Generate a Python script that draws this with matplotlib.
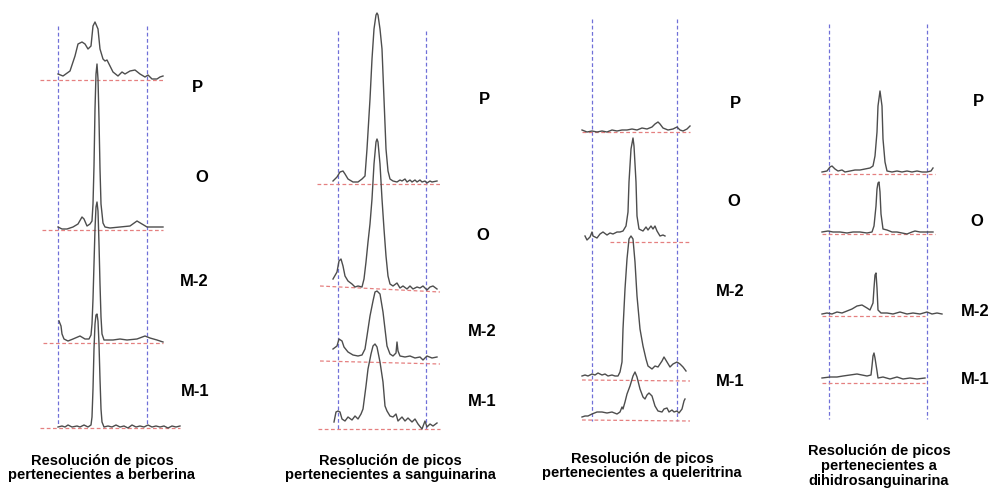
# ---------------------------------------------
# Resolución de picos - cromatogramas apilados
# ---------------------------------------------

import numpy as np
import matplotlib
matplotlib.use("Agg")
import matplotlib.pyplot as plt

# ----------------------------
# Data (x = retention position, h = signal above baseline)
# ----------------------------

ber_P = [(58, 6), (63, 4), (70, 9), (75, 24), (78, 36), (82, 38), (85, 36), (88, 31),
         (91, 34), (93, 54), (95, 58), (98, 51), (100, 31), (103, 21), (105, 19),
         (107, 20), (110, 14), (113, 8), (118, 4), (122, 8), (125, 6), (130, 9),
         (135, 10), (140, 6), (145, 3), (148, 5), (152, 1), (157, 1), (160, 3), (163, 4)]
ber_O = [(58, 3), (62, 1), (67, 1), (73, 3), (78, 6), (82, 13), (84, 11), (87, 4),
         (90, 6), (92, 9), (93, 26), (94, 64), (95, 121), (96, 156), (97, 166),
         (98, 151), (99, 111), (100, 61), (101, 26), (103, 7), (105, 3), (110, 2),
         (120, 3), (130, 4), (137, 9), (142, 6), (147, 3), (153, 3), (163, 3)]
ber_M2 = [(59, 22), (61, 17), (62, 9), (64, 4), (68, 2), (73, 4), (80, 7), (85, 4),
          (89, 4), (91, 8), (92, 19), (93, 44), (94, 79), (95, 114), (96, 136),
          (97, 141), (98, 132), (99, 99), (100, 59), (101, 26), (102, 9), (104, 3),
          (113, 3), (120, 4), (127, 3), (137, 4), (145, 7), (150, 5), (157, 3), (163, 1)]
ber_M1 = [(58, 2), (62, 3), (65, 2), (68, 4), (72, 2), (77, 3), (80, 2), (84, 4),
          (88, 2), (91, 4), (92, 12), (93, 40), (94, 80), (95, 105), (96, 114),
          (97, 115), (98, 108), (99, 85), (100, 50), (101, 20), (102, 7), (104, 2),
          (108, 3), (112, 2), (116, 4), (120, 2), (124, 3), (128, 1), (132, 4),
          (136, 2), (140, 3), (144, 2), (148, 4), (152, 2), (156, 3), (160, 2),
          (164, 3), (168, 1), (172, 3), (176, 2), (180, 3)]

san_P = [(333, 3), (337, 7), (340, 12), (343, 13), (345, 10), (348, 5), (353, 2),
         (358, 2), (362, 5), (365, 8), (367, 35), (370, 85), (372, 125), (374, 155),
         (376, 169), (377, 171), (378, 169), (380, 155), (382, 135), (384, 85),
         (386, 35), (388, 13), (390, 5), (393, 3), (397, 2), (400, 4), (402, 3),
         (405, 5), (407, 2), (410, 4), (412, 2), (415, 4), (417, 2), (420, 4),
         (422, 2), (425, 3), (427, 1), (430, 3), (432, 2), (437, 3)]
san_O = [(333, 10), (337, 17), (339, 28), (341, 30), (343, 23), (345, 13), (348, 8),
         (352, 5), (355, 2), (358, 3), (362, 2), (364, 10), (366, 27), (368, 47),
         (370, 65), (372, 90), (374, 125), (376, 147), (377, 150), (378, 147),
         (380, 125), (382, 90), (384, 60), (386, 33), (388, 13), (390, 5), (393, 3),
         (397, 6), (400, 1), (403, 3), (407, 0), (410, 3), (413, 0), (417, 2),
         (420, 1), (423, 3), (427, -1), (430, 2), (433, 3), (437, 0)]
san_M2 = [(333, 13), (337, 16), (339, 23), (342, 21), (344, 15), (348, 10), (353, 7),
          (358, 6), (362, 7), (365, 13), (367, 26), (370, 46), (373, 61), (375, 70),
          (377, 71), (380, 68), (383, 50), (385, 33), (387, 16), (390, 8), (393, 6),
          (396, 9), (397, 20), (398, 11), (400, 6), (405, 5), (410, 6), (415, 4),
          (420, 5), (423, 2), (427, 6), (432, 4), (437, 5)]
san_M1 = [(334, 7), (336, 17), (338, 18), (340, 17), (342, 10), (345, 8), (348, 12),
          (352, 9), (355, 13), (358, 10), (361, 15), (363, 20), (366, 43), (368, 60),
          (371, 75), (373, 83), (375, 85), (377, 82), (380, 67), (383, 47), (385, 23),
          (387, 18), (390, 13), (393, 12), (396, 15), (398, 8), (402, 12), (405, 8),
          (408, 11), (412, 7), (415, 10), (418, 5), (422, 0), (425, 8), (427, 2),
          (430, 5), (433, 3), (437, 6)]

que_P = [(582, 2), (587, 0), (592, 1), (597, 0), (602, 1), (607, 0), (612, 2),
         (617, 1), (622, 2), (627, 2), (632, 3), (637, 2), (642, 4), (647, 3),
         (652, 5), (655, 8), (658, 10), (660, 8), (663, 4), (668, 2), (673, 3),
         (677, 5), (680, 2), (683, 1), (687, 3), (690, 6)]
que_O = [(585, 6), (587, 2), (590, 5), (592, 10), (593, 6), (597, 4), (600, 8),
         (603, 10), (607, 7), (610, 9), (613, 8), (617, 10), (620, 10), (623, 11),
         (626, 16), (628, 30), (629, 60), (631, 93), (633, 104), (634, 96),
         (636, 60), (637, 26), (639, 13), (643, 11), (646, 15), (648, 12), (651, 16),
         (653, 13), (655, 16), (657, 11), (660, 6), (663, 7), (665, 6)]
que_M2 = [(582, 4), (585, 5), (588, 4), (592, 6), (595, 5), (598, 7), (602, 5),
          (605, 6), (608, 4), (612, 5), (615, 4), (618, 4), (620, 8), (622, 18),
          (623, 51), (625, 91), (627, 121), (629, 141), (631, 144), (633, 141),
          (635, 118), (637, 84), (640, 51), (643, 34), (646, 21), (648, 14),
          (652, 11), (655, 14), (658, 13), (662, 19), (664, 23), (667, 18),
          (670, 13), (673, 16), (677, 18), (680, 16), (683, 13), (686, 9)]
que_M1 = [(582, 3), (585, 4), (588, 4), (592, 6), (597, 8), (602, 8), (607, 7),
          (612, 8), (617, 6), (620, 8), (622, 13), (623, 11), (625, 18), (627, 26),
          (630, 34), (633, 44), (635, 48), (637, 43), (640, 31), (643, 23), (645, 21),
          (647, 25), (649, 27), (652, 24), (655, 14), (658, 9), (662, 8), (664, 11),
          (667, 12), (669, 8), (672, 10), (674, 8), (677, 9), (679, 7), (682, 11),
          (684, 19), (685, 21)]

dih_P = [(822, 2), (827, 3), (830, 7), (832, 8), (835, 5), (838, 3), (842, 4),
         (845, 2), (850, 3), (855, 4), (860, 4), (865, 5), (870, 6), (873, 8),
         (875, 18), (877, 42), (878, 68), (880, 83), (882, 68), (883, 35), (885, 12),
         (887, 3), (892, 2), (897, 3), (902, 2), (907, 3), (912, 2), (917, 3),
         (922, 2), (927, 2), (931, 3), (933, 6)]
dih_O = [(822, 2), (828, 3), (833, 2), (840, 2), (847, 1), (853, 2), (860, 2),
         (867, 1), (872, 2), (874, 8), (876, 28), (877, 45), (878, 51), (879, 52),
         (880, 42), (881, 20), (883, 5), (887, 4), (892, 2), (897, 2), (902, 1),
         (907, 0), (912, 2), (915, 3), (920, 2), (925, 2), (930, 2), (933, 2)]
dih_M2 = [(822, 1), (827, 2), (832, 1), (837, 3), (842, 2), (847, 4), (852, 6),
          (857, 9), (862, 10), (867, 7), (870, 5), (873, 12), (874, 27), (875, 40),
          (876, 42), (877, 27), (878, 5), (881, 2), (887, 2), (893, 1), (900, 3),
          (907, 1), (913, 2), (920, 1), (927, 3), (932, 1), (937, 2), (942, 1)]
dih_M1 = [(822, 4), (830, 5), (837, 5), (843, 6), (850, 7), (857, 8), (862, 7),
          (867, 6), (871, 7), (872, 16), (873, 26), (874, 29), (875, 24), (877, 11),
          (878, 4), (883, 5), (890, 3), (897, 5), (903, 3), (910, 4), (917, 3),
          (925, 4)]

sample_labels = ["P", "O", "M-2", "M-1"]

titles = [
    "Resolución de picos\npertenecientes a berberina",
    "Resolución de picos\npertenecientes a sanguinarina",
    "Resolución de picos\npertenecientes a queleritrina",
    "Resolución de picos\npertenecientes a\ndihidrosanguinarina",
]

# ----------------------------
# Layout (pixel space of the original figure)
# ----------------------------

panels = [
    dict(traces=[ber_P, ber_O, ber_M2, ber_M1],
         base=[81, 231, 344, 430],
         red=[(40, 163, 81, 81), (42, 163, 231, 231), (43, 163, 344, 344), (40, 180, 429, 429)],
         window=(58, 147), wy=(27, 427),
         lab=[(197, 87), (202, 177), (194, 281), (195, 392)],
         title=(102, 468)),
    dict(traces=[san_P, san_O, san_M2, san_M1],
         base=[185, 290, 363, 430],
         red=[(317, 440, 185, 185), (320, 440, 287, 293), (320, 440, 362, 365), (318, 440, 430, 430)],
         window=(338, 426), wy=(32, 432),
         lab=[(484, 100), (483, 235), (482, 331), (482, 402)],
         title=(390, 468)),
    dict(traces=[que_P, que_O, que_M2, que_M1],
         base=[133, 243, 381, 421],
         red=[(582, 690, 133, 133), (610, 690, 243, 243), (582, 690, 381, 382), (582, 690, 421, 422)],
         window=(592, 677), wy=(20, 422),
         lab=[(735, 103), (734, 202), (730, 292), (730, 382)],
         title=(642, 466)),
    dict(traces=[dih_P, dih_O, dih_M2, dih_M1],
         base=[175, 235, 316, 383],
         red=[(822, 935, 175, 175), (822, 935, 235, 235), (822, 925, 317, 317), (822, 925, 384, 384)],
         window=(829, 927), wy=(25, 420),
         lab=[(978, 102), (977, 221), (975, 311), (975, 379)],
         title=(879, 466)),
]

# ----------------------------
# Plot
# ----------------------------

fig = plt.figure(figsize=(9.93, 4.89), dpi=100)
ax = fig.add_axes([0, 0, 1, 1])
ax.set_xlim(0, 993)
ax.set_ylim(489, 0)
ax.axis("off")

font = "Liberation Sans"

for p in panels:
    # retention window
    for xw in p["window"]:
        ax.plot([xw, xw], p["wy"], color="#7070d8", lw=0.9, ls=(0, (3, 2)))

    for trace, base, red in zip(p["traces"], p["base"], p["red"]):
        x, h = np.array(trace, dtype=float).T
        ax.plot(red[:2], red[2:], color="#e58080", lw=0.9, ls=(0, (3, 2)))
        ax.plot(x, base - h, color="#4d4d4d", lw=1.0)

    for name, (lx, ly) in zip(sample_labels, p["lab"]):
        ax.text(lx, ly, name, ha="center", va="center", fontsize=12,
                fontweight="bold", family=font)

for p, t in zip(panels, titles):
    ax.text(p["title"][0], p["title"][1], t, ha="center", va="center",
            fontsize=10.5, fontweight="bold", family=font, linespacing=1.05)

fig.savefig("out.png", dpi=100)
